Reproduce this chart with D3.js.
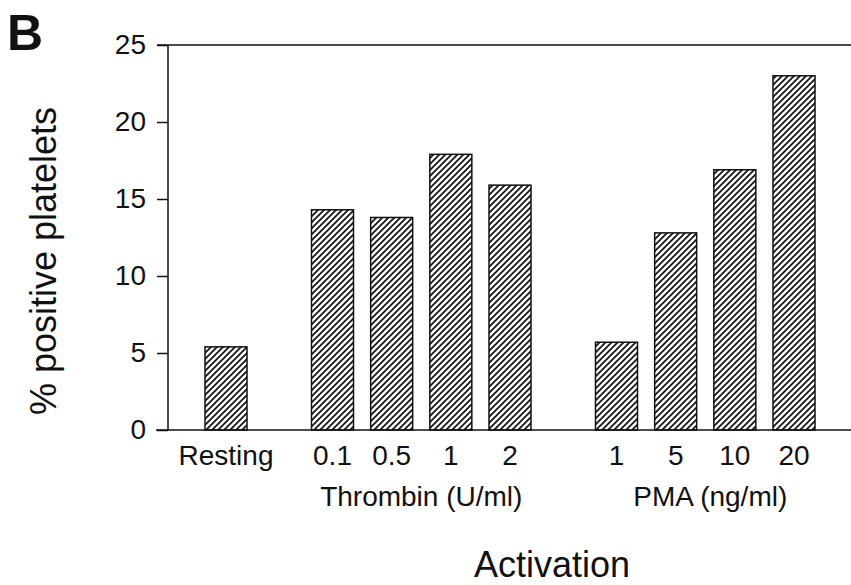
<!DOCTYPE html>
<html><head><meta charset="utf-8">
<script src="https://cdn.jsdelivr.net/npm/d3@7"></script>
<style>
body{margin:0;background:#fff;}
svg{display:block;font-family:"Liberation Sans",Arial,sans-serif;}
</style></head>
<body><svg id="c" width="851" height="585"></svg>
<script>
const groups = ["", "Thrombin (U/ml)", "PMA (ng/ml)"];
const categories = ["Resting", "0.1", "0.5", "1", "2", "1", "5", "10", "20"];
const categoryGroup = [0, 1, 1, 1, 1, 2, 2, 2, 2];
const values = [5.4, 14.3, 13.8, 17.9, 15.9, 5.7, 12.8, 16.9, 23.0];
const yTicks = [0, 5, 10, 15, 20, 25];
const yLabel = "% positive platelets";
const xLabel = "Activation";
const panelLabel = "B";

const svg = d3.select("#c");
const mLeft = 168, mRight = 851, mTop = 45, mBottom = 430;
const gap = 0.8, barW = 42;

// slot index: category index plus a gap between groups
const slots = categories.map((c, i) => i + categoryGroup[i] * gap);
const x = d3.scaleLinear().domain([0, d3.max(slots)]).range([226, 794]);
const y = d3.scaleLinear().domain([0, 25]).range([mBottom, mTop]);

const defs = svg.append("defs");
const pat = defs.append("pattern").attr("id", "hatch")
  .attr("patternUnits", "userSpaceOnUse").attr("width", 6).attr("height", 6);
pat.append("path").attr("d", "M-1,7 L7,-1 M-2,2 L2,-2 M4,8 L8,4")
  .attr("stroke", "#111").attr("stroke-width", 1.7);

// bars
svg.append("g").selectAll("rect").data(values).join("rect")
  .attr("x", (d, i) => x(slots[i]) - barW / 2)
  .attr("y", d => y(d))
  .attr("width", barW)
  .attr("height", d => y(0) - y(d))
  .attr("fill", "url(#hatch)")
  .attr("stroke", "#111").attr("stroke-width", 1.5);

// y axis
const yAxis = svg.append("g").attr("transform", `translate(${mLeft},0)`)
  .call(d3.axisLeft(y).tickValues(yTicks).tickSize(11).tickPadding(11));
yAxis.select(".domain").attr("stroke", "#111").attr("stroke-width", 1.5)
  .attr("d", `M0,${mTop}V${mBottom}`);
yAxis.selectAll(".tick line").attr("stroke", "#111").attr("stroke-width", 1.5);
yAxis.selectAll(".tick text").attr("font-size", 28).attr("fill", "#111")
  .attr("font-family", "Liberation Sans, Arial, sans-serif");

// top and bottom lines
svg.append("line").attr("x1", mLeft - 11).attr("x2", mRight).attr("y1", mTop).attr("y2", mTop)
  .attr("stroke", "#111").attr("stroke-width", 1.5);
svg.append("line").attr("x1", mLeft - 12).attr("x2", mRight).attr("y1", mBottom).attr("y2", mBottom)
  .attr("stroke", "#111").attr("stroke-width", 1.5);

// x tick labels
svg.append("g").selectAll("text").data(categories).join("text")
  .attr("x", (d, i) => x(slots[i]))
  .attr("y", 465)
  .attr("text-anchor", "middle")
  .attr("font-size", 28).attr("fill", "#111")
  .text(d => d);

// group labels
const groupCenters = groups.map((g, gi) => {
  const xs = slots.filter((s, i) => categoryGroup[i] === gi).map(s => x(s));
  return d3.mean(xs);
});
svg.append("g").selectAll("text").data(groups).join("text")
  .attr("x", (d, i) => groupCenters[i] + (i === 2 ? 5 : 0))
  .attr("y", 506)
  .attr("text-anchor", "middle")
  .attr("font-size", 28).attr("fill", "#111")
  .text(d => d);

// axis titles
svg.append("text").attr("x", 552).attr("y", 577).attr("text-anchor", "middle")
  .attr("font-size", 36).attr("fill", "#111").text(xLabel);
svg.append("text").attr("transform", `translate(56,261) rotate(-90)`)
  .attr("text-anchor", "middle").attr("font-size", 36).attr("fill", "#111").text(yLabel);
svg.append("text").attr("x", 7).attr("y", 50).attr("font-size", 50)
  .attr("font-weight", "bold").attr("fill", "#111").text(panelLabel);
</script></body></html>
